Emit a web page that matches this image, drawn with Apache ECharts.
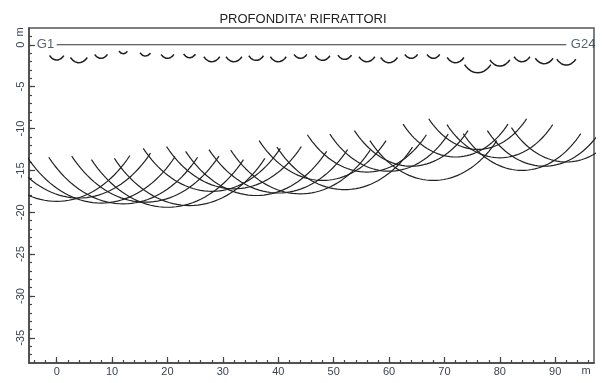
<!DOCTYPE html>
<html>
<head>
<meta charset="utf-8">
<script src="https://cdn.jsdelivr.net/npm/echarts@6/dist/echarts.min.js"></script>
<style>html,body{margin:0;padding:0;background:#fff}#chart{width:606px;height:383px}</style>
</head>
<body>
<div id="chart"></div>
<script>
"use strict";
// posizione geofoni lungo lo stendimento (m)
var geophoneX = [0, 4, 8, 12, 16, 20, 24, 28, 32, 36, 40, 44, 48, 52, 56, 60, 64, 68, 72, 76, 80, 84, 88, 92];
var geophoneNames = ['G1', 'G24'];
// profondità primo rifrattore sotto ogni geofono (m)
var shallowDepth = [1.83, 2.15, 1.63, 1.08, 1.36, 1.63, 1.55, 2.03, 2.03, 1.87, 2.03, 1.63,
                    1.87, 1.75, 2.03, 2.15, 1.63, 1.63, 2.15, 3.35, 2.55, 2.03, 2.27, 2.43];
// profondità secondo rifrattore sotto ogni geofono (m)
var deepDepth = [18.7, 18.3, 18.9, 19.0, 18.8, 19.4, 19.2, 17.5, 17.2, 18.0, 17.7, 17.8,
                 16.2, 17.3, 15.2, 15.1, 14.5, 16.2, 13.4, 12.5, 13.5, 15.0, 14.5, 14.0];
// etichette assi
var xMajorTicks = [0, 10, 20, 30, 40, 50, 60, 70, 80, 90];
var yMajorTicks = [0, -5, -10, -15, -20, -25, -30, -35];

var xMinorTicks = [];
for (var i = -4; i <= 96; i += 2) xMinorTicks.push(i);
var yMinorTicks = [];
for (var j = -37; j <= 1; j++) yMinorTicks.push(j);

//arco di circonferenza centrato sul geofono, raggio = profondità
function arcPoints(cx, r, halfAngle) {
    var pts = [];
    for (var k = 0; k <= 40; k++) {
        var a = (-halfAngle + 2 * halfAngle * k / 40) * Math.PI / 180;
        pts.push([cx + r * Math.sin(a), -r * Math.cos(a)]);
    }
    return pts;
}

var series = [];
geophoneX.forEach(function (x, idx) {
    series.push({
        type: 'line', data: arcPoints(x, shallowDepth[idx], 45),
        symbol: 'none', silent: true, clip: true,
        lineStyle: { color: '#1e1e1e', width: 1.5 }
    });
    series.push({
        type: 'line', data: arcPoints(x, deepDepth[idx], 45),
        symbol: 'none', silent: true, clip: true,
        lineStyle: { color: '#222', width: 1.2 }
    });
});
// linea di superficie con geofoni
series.push({
    type: 'line',
    data: [[geophoneX[0], 0], [geophoneX[geophoneX.length - 1], 0]],
    symbol: 'none', silent: true,
    lineStyle: { color: '#333', width: 1 }
});
series.push({
    type: 'scatter', silent: true, symbolSize: 1,
    itemStyle: { color: 'transparent' },
    data: [
        { value: [geophoneX[0], 0], label: { show: true, position: 'left', distance: 2, formatter: geophoneNames[0] } },
        { value: [geophoneX[geophoneX.length - 1], 0], label: { show: true, position: 'right', distance: 4, formatter: geophoneNames[1] } }
    ],
    label: { color: '#2b3846', fontSize: 13, fontFamily: 'Liberation Sans' }
});

var tickStyle = { color: '#444', width: 1.2 };
var myChart = echarts.init(document.getElementById('chart'));
myChart.setOption({
    animation: false,
    textStyle: { fontFamily: 'Liberation Sans' },
    title: {
        text: "PROFONDITA' RIFRATTORI",
        left: 'center', top: 8,
        textStyle: { fontSize: 13, fontWeight: 'normal', color: '#222', fontFamily: 'Liberation Sans' }
    },
    grid: {
        left: 29, right: 12, top: 28, bottom: 20,
        show: true, borderColor: '#555', borderWidth: 1.5
    },
    xAxis: [{
        type: 'value', min: -5, max: 97, position: 'bottom',
        axisLine: { show: true, onZero: false, lineStyle: { color: '#444', width: 1.5 } },
        axisTick: { show: true, inside: true, length: 6, customValues: xMajorTicks, lineStyle: tickStyle },
        axisLabel: { customValues: xMajorTicks, color: '#3a4452', fontSize: 11, margin: 3 },
        splitLine: { show: false }
    }, {
        type: 'value', min: -5, max: 97, position: 'bottom',
        axisLine: { show: false, onZero: false },
        axisTick: { show: true, inside: true, length: 3, customValues: xMinorTicks, lineStyle: tickStyle },
        axisLabel: { show: false },
        splitLine: { show: false }
    }],
    yAxis: [{
        type: 'value', min: -38, max: 2, position: 'left',
        axisLine: { show: true, onZero: false, lineStyle: { color: '#444', width: 1.5 } },
        axisTick: { show: true, inside: true, length: 6, customValues: yMajorTicks, lineStyle: tickStyle },
        axisLabel: { customValues: yMajorTicks, rotate: 90, color: '#3a4452', fontSize: 11, margin: 3 },
        splitLine: { show: false }
    }, {
        type: 'value', min: -38, max: 2, position: 'left',
        axisLine: { show: false, onZero: false },
        axisTick: { show: true, inside: true, length: 3, customValues: yMinorTicks, lineStyle: tickStyle },
        axisLabel: { show: false },
        splitLine: { show: false }
    }],
    graphic: [
        { type: 'text', x: 20, y: 32, rotation: Math.PI / 2,
          style: { text: 'm', fill: '#3a4452', fontSize: 11, fontFamily: 'Liberation Sans', align: 'center', verticalAlign: 'middle' } },
        { type: 'text', x: 586, y: 371,
          style: { text: 'm', fill: '#3a4452', fontSize: 11, fontFamily: 'Liberation Sans', align: 'center', verticalAlign: 'middle' } }
    ],
    series: series
});

window.onresize = function () {
    myChart.resize();
};
</script>
</body>
</html>
